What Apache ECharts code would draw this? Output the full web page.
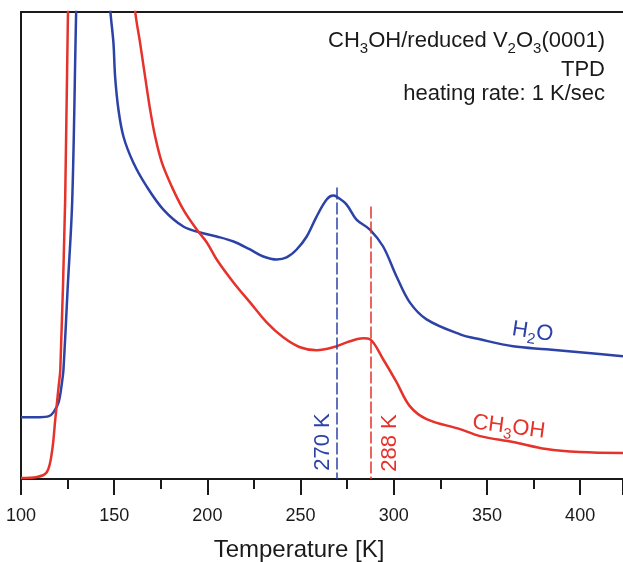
<!DOCTYPE html>
<html>
<head>
<meta charset="utf-8">
<script src="https://cdn.jsdelivr.net/npm/echarts@6/dist/echarts.min.js"></script>
<style>
  html, body { margin: 0; padding: 0; background: #fff; }
  #main { width: 623px; height: 562px; }
</style>
</head>
<body>
<div id="main"></div>
<script>
// TPD traces, temperature in K, signal in arbitrary units
var h2oTemp = [100, 110, 115, 117.5, 120.2, 122, 122.8, 125, 127.5, 129.6, 131, 134, 138, 142, 145, 147.9,
  149.6, 150.5, 152.3, 155, 160.3, 167.5, 176.4, 187.1, 196.1, 205, 214, 222.9, 230, 237.2, 242.5, 247.9,
  253.3, 258.6, 264, 267.5, 269.3, 274.7, 280, 287.2, 294.3, 301.5, 308.6, 317.6, 335.6, 346.2,
  364, 381.9, 399.8, 423];
var h2oSignal = [62, 62, 63, 67, 77, 97, 110, 190, 280, 468, 560, 640, 660, 620, 560, 470,
  437, 403, 370, 343, 317, 293, 270, 253, 247, 243, 238, 230, 223, 220, 222, 230,
  243, 263, 280, 284, 283, 275, 260, 250, 233, 203, 177, 160, 145, 140,
  133, 130, 127, 123];

var ch3ohTemp = [100, 108.6, 113.9, 116.6, 118.4, 120.2, 121.1, 123.7, 125.2, 127, 132, 140, 150, 157, 161.2,
  163.9, 166.6, 169.3, 172, 175.6, 180.9, 187.1, 194.3, 199.7, 205, 214, 222.9, 231.8, 240.7, 249.7, 258.6,
  267.5, 276.5, 283.6, 287.2, 294.3, 301.5, 308.6, 317.6, 335.6, 346.2, 364, 381.9, 399.8, 423];
var ch3ohSignal = [1, 2, 7, 27, 60, 93, 110, 280, 468, 580, 720, 760, 700, 580, 470,
  437, 403, 370, 343, 317, 293, 270, 250, 237, 220, 197, 177, 157, 142, 132, 129,
  132, 138, 141, 140, 120, 97, 73, 60, 50, 43, 37, 30, 27, 26];

var xTicks = [100, 150, 200, 250, 300, 350, 400];
var peakTemps = [269.5, 287.8];
var peakTops = [292, 273];

var blue = '#2c42a6';
var red = '#e5322a';
var ink = '#1a1a1a';
var font = '"Liberation Sans", Arial, Helvetica, sans-serif';

function zip(a, b) {
  return a.map(function (v, i) { return [v, b[i]]; });
}

function peakLine(t, top, color) {
  return {
    silent: true,
    symbol: 'none',
    label: { show: false },
    lineStyle: { color: color, width: 1.5, type: [12, 3] },
    data: [[{ coord: [t, top] }, { coord: [t, 0] }]]
  };
}

function subText(x, y, rot, text, color, size) {
  return {
    type: 'text', x: x, y: y, rotation: rot,
    style: {
      text: text,
      align: 'center', verticalAlign: 'middle',
      rich: {
        n: { fontSize: size, fontFamily: font, fill: color, lineHeight: size + 4, verticalAlign: 'bottom' },
        s: { fontSize: Math.round(size * 0.68), fontFamily: font, fill: color, lineHeight: Math.round(size * 0.68),
          verticalAlign: 'bottom', padding: [0, 0, -4, 0] }
      }
    }
  };
}

var chart = echarts.init(document.getElementById('main'));

var option = {
  animation: false,
  grid: { left: 21, right: 0, top: 12, bottom: 83 },
  xAxis: [{
    type: 'value',
    min: xTicks[0],
    max: 423,
    interval: 50,
    axisLine: { lineStyle: { color: ink, width: 2 } },
    axisTick: { length: 16, lineStyle: { color: ink, width: 2 } },
    minorTick: { show: true, splitNumber: 2, length: 10, lineStyle: { color: ink, width: 2 } },
    splitLine: { show: false },
    axisLabel: { showMaxLabel: false, margin: 28, fontSize: 18, color: ink, fontFamily: font }
  }, {
    type: 'value',
    position: 'top',
    min: xTicks[0],
    max: 423,
    axisLine: { show: true, lineStyle: { color: ink, width: 2 } },
    axisTick: { show: false },
    axisLabel: { show: false },
    splitLine: { show: false }
  }],
  yAxis: {
    type: 'value',
    min: 0,
    max: 468,
    axisLine: { show: true, lineStyle: { color: ink, width: 2 } },
    axisTick: { show: false },
    axisLabel: { show: false },
    splitLine: { show: false }
  },
  series: [{
    name: 'H2O',
    type: 'line',
    data: zip(h2oTemp, h2oSignal),
    showSymbol: false,
    smooth: 0.35,
    lineStyle: { color: blue, width: 2.5 },
    markLine: peakLine(peakTemps[0], peakTops[0], blue)
  }, {
    name: 'CH3OH',
    type: 'line',
    data: zip(ch3ohTemp, ch3ohSignal),
    showSymbol: false,
    smooth: 0.35,
    lineStyle: { color: red, width: 2.5 },
    markLine: peakLine(peakTemps[1], peakTops[1], red)
  }],
  graphic: [
    {
      type: 'text', x: 605, y: 39,
      style: {
        text: '{n|CH}{s|3}{n|OH/reduced V}{s|2}{n|O}{s|3}{n|(0001)}',
        align: 'right', verticalAlign: 'middle',
        rich: {
          n: { fontSize: 22, fontFamily: font, fill: ink, lineHeight: 26, verticalAlign: 'bottom' },
          s: { fontSize: 15, fontFamily: font, fill: ink, lineHeight: 15, verticalAlign: 'bottom', padding: [0, 0, -4, 0] }
        }
      }
    },
    {
      type: 'text', x: 605, y: 70,
      style: { text: 'TPD', fontSize: 22, fontFamily: font, fill: ink, align: 'right', verticalAlign: 'middle' }
    },
    {
      type: 'text', x: 605, y: 94,
      style: { text: 'heating rate: 1 K/sec', fontSize: 22, fontFamily: font, fill: ink, align: 'right', verticalAlign: 'middle' }
    },
    {
      type: 'text', x: 299, y: 550,
      style: { text: 'Temperature [K]', fontSize: 24, fontFamily: font, fill: ink, align: 'center', verticalAlign: 'middle' }
    },
    {
      type: 'text', x: 323, y: 442, rotation: Math.PI / 2,
      style: { text: '270 K', fontSize: 22, fontFamily: font, fill: blue, align: 'center', verticalAlign: 'middle' }
    },
    {
      type: 'text', x: 390, y: 443, rotation: Math.PI / 2,
      style: { text: '288 K', fontSize: 22, fontFamily: font, fill: red, align: 'center', verticalAlign: 'middle' }
    },
    subText(533, 330, -0.15, '{n|H}{s|2}{n|O}', blue, 22),
    subText(509, 425, -0.13, '{n|CH}{s|3}{n|OH}', red, 22)
  ]
};

chart.setOption(option);
</script>
</body>
</html>
